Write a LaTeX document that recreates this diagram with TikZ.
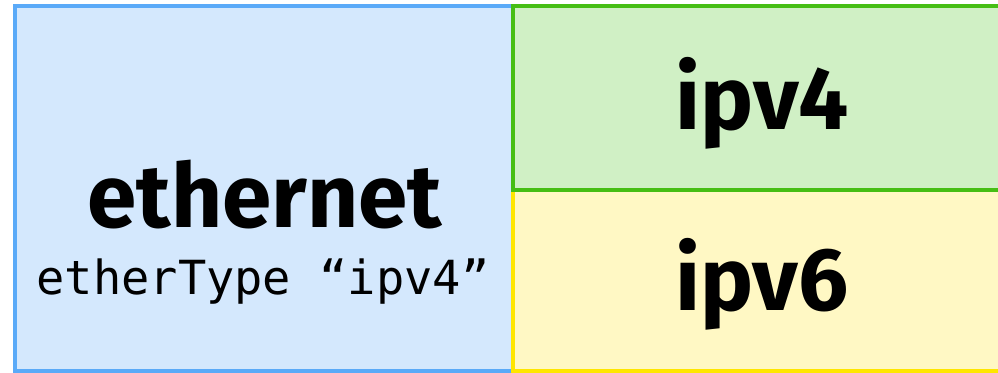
\documentclass[tikz,border=0pt]{standalone}
\usepackage{fontspec}
\setmainfont{Fira Sans}
\setmonofont{DejaVu Sans Mono}
\usetikzlibrary{calc}

\definecolor{ethFill}{RGB}{212,232,253}
\definecolor{ethLine}{RGB}{90,170,248}
\definecolor{vfourFill}{RGB}{208,240,197}
\definecolor{vfourLine}{RGB}{70,190,20}
\definecolor{vsixFill}{RGB}{255,248,196}
\definecolor{vsixLine}{RGB}{255,230,0}

\tikzset{
  hdr/.style={line width=2pt},
  big/.style={font=\fontsize{44.5}{48}\selectfont\bfseries, inner sep=0pt},
  small/.style={font=\fontsize{23.5}{26}\selectfont\ttfamily, inner sep=0pt}
}

\begin{document}
\begin{tikzpicture}[x=0.5pt, y=-0.5pt]
\useasboundingbox (0,0) rectangle (998,373);
\clip (0,0) rectangle (998,373);
\draw[hdr, draw=ethLine, fill=ethFill] (15,6) rectangle (513,371);
\draw[hdr, draw=vsixLine, fill=vsixFill] (513,190) rectangle (1010,371);
\draw[hdr, draw=vfourLine, fill=vfourFill] (513,6) rectangle (1010,190);
\node[big] (eth) at (265,195) {ethernet};
\node[small, anchor=base] (ethtype) at (263,295) {etherType “ipv4”};
\node[big] (vfour) at (762,103) {ipv4};
\node[big] (vsix) at (762,284) {ipv6};
\end{tikzpicture}
\end{document}
